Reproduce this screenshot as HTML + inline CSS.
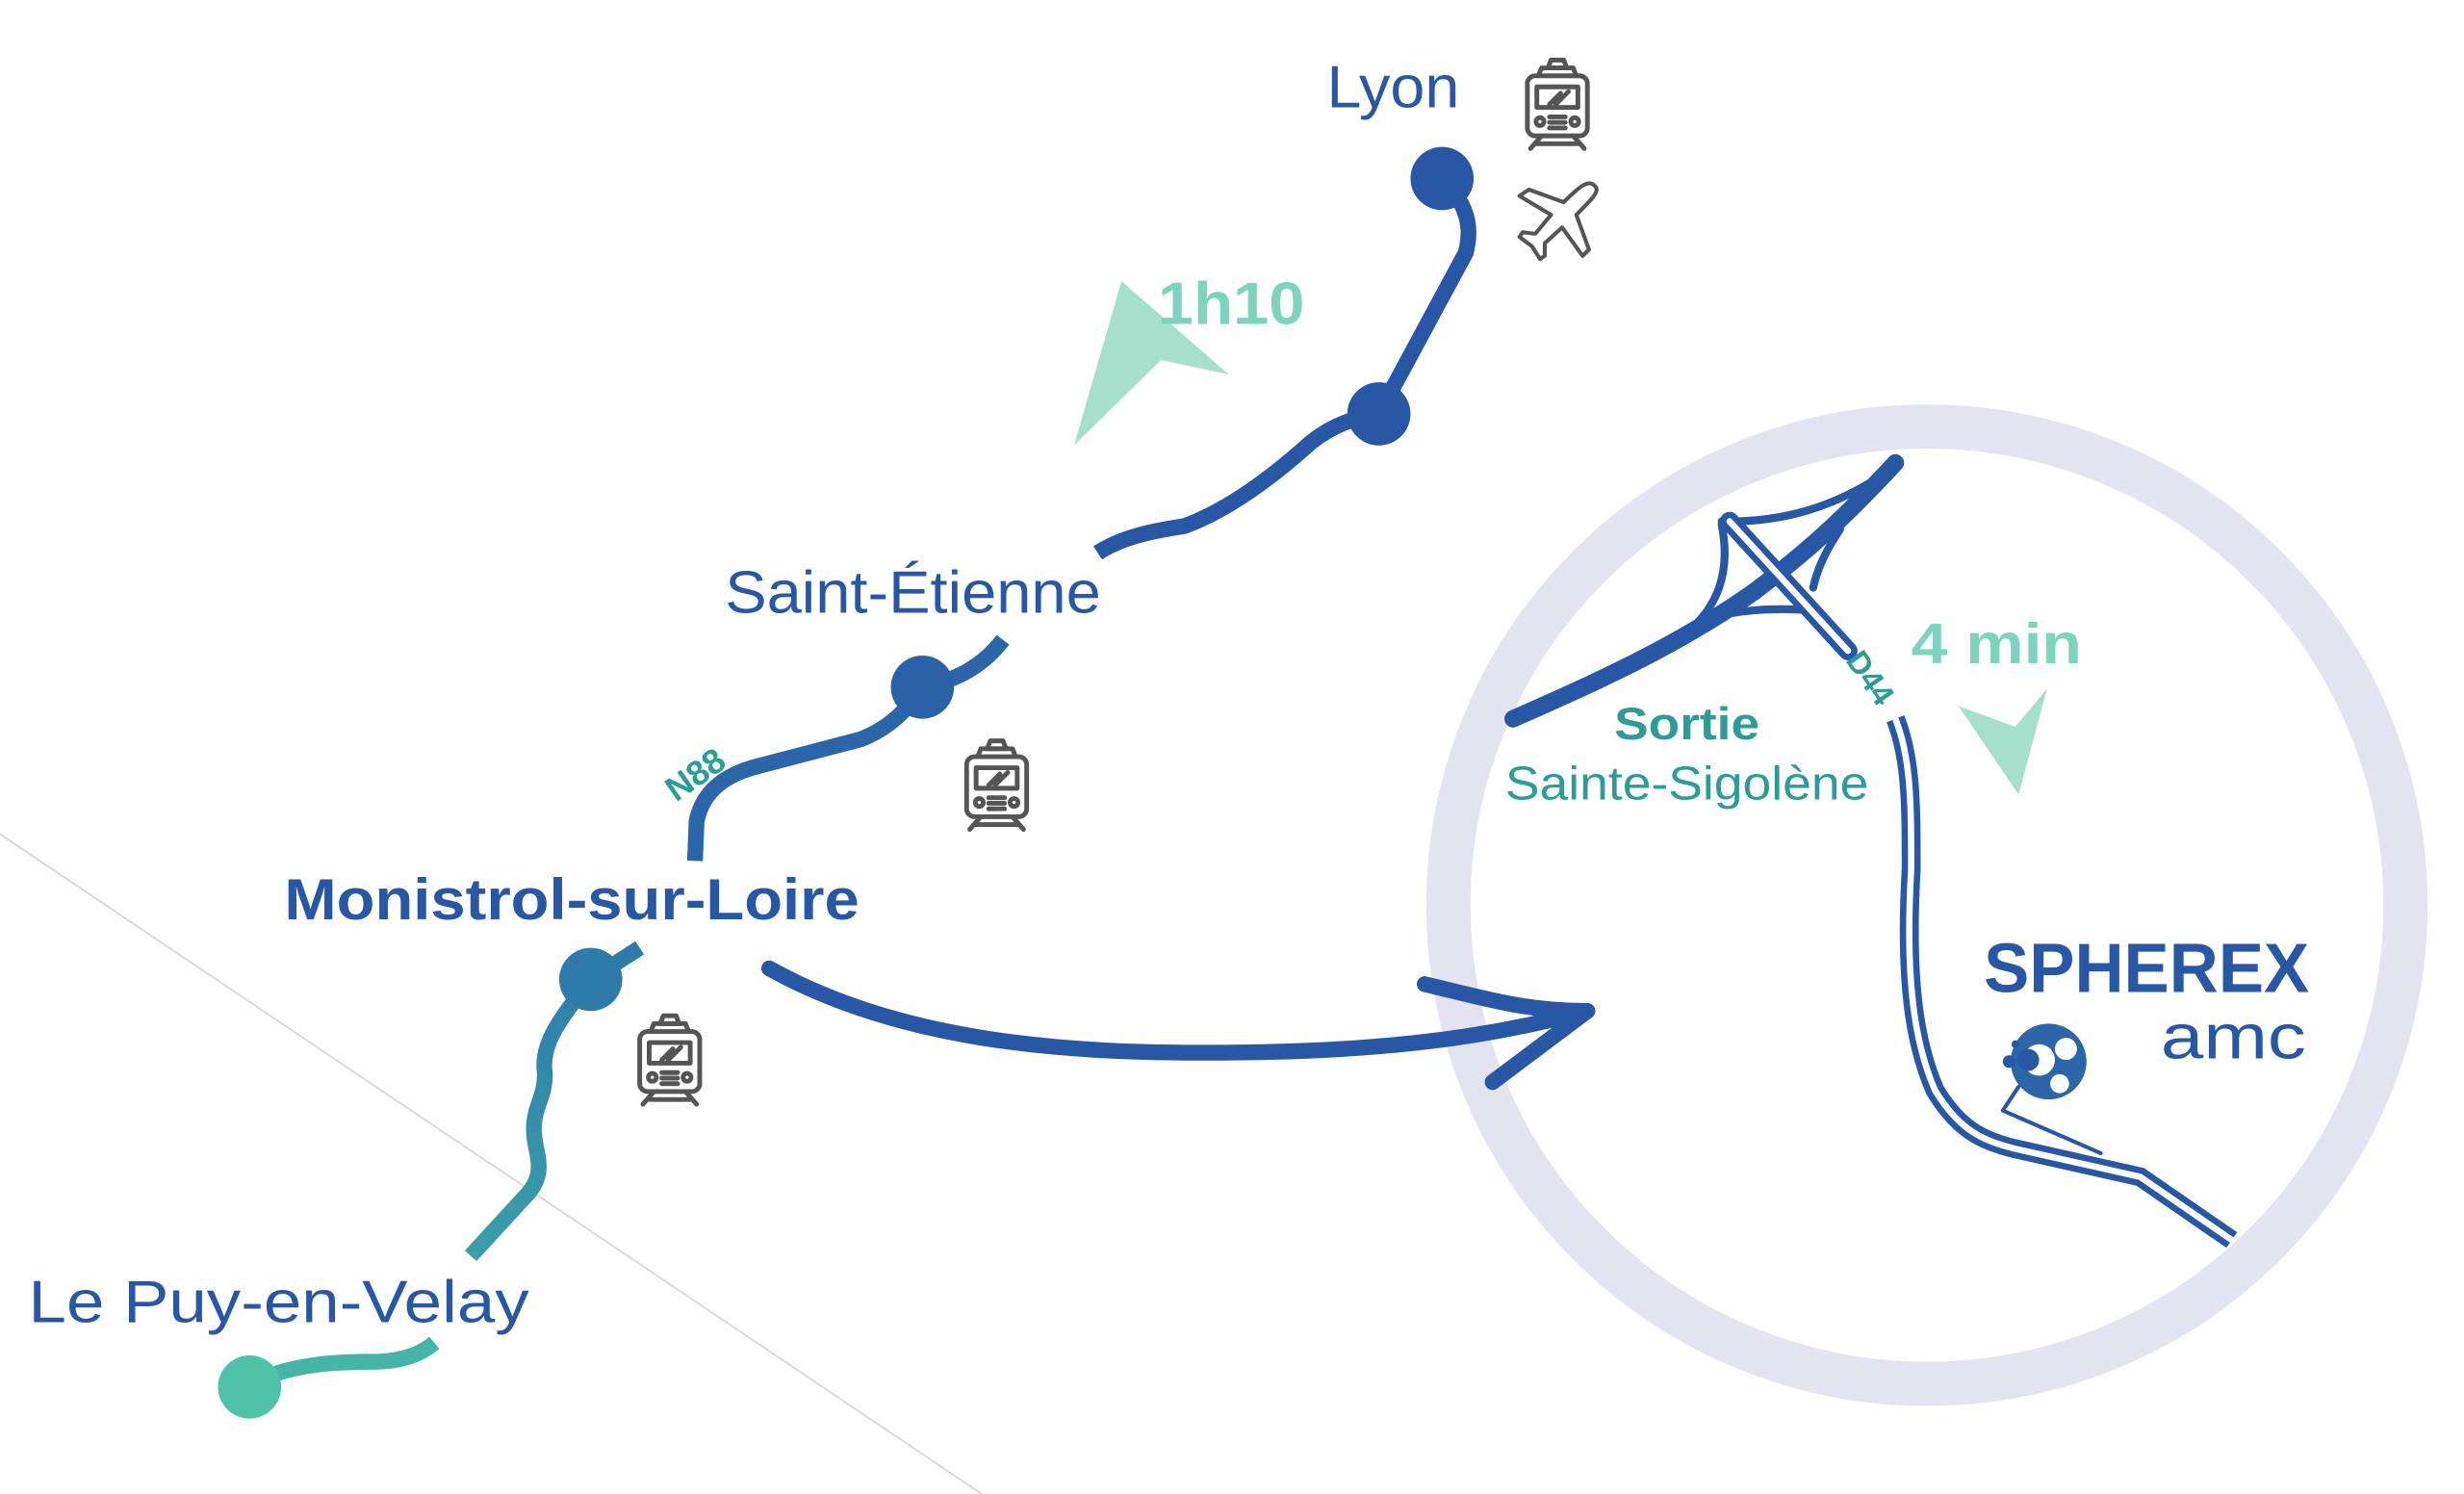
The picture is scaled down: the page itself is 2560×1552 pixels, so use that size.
<!DOCTYPE html>
<html><head><meta charset="utf-8"><style>
html,body{margin:0;padding:0;background:#fff;width:2560px;height:1552px;overflow:hidden}
svg{display:block}
text{font-family:"Liberation Sans",sans-serif}
</style></head><body>
<svg width="2560" height="1552" viewBox="0 0 1560 945.75" preserveAspectRatio="none" xmlns="http://www.w3.org/2000/svg">
<defs>
<linearGradient id="g2" x1="0" y1="1" x2="0" y2="0">
<stop offset="0" stop-color="#3a9fa8"/><stop offset="1" stop-color="#2e7aaa"/>
</linearGradient>
<g id="train" fill="none" stroke="#555" stroke-width="3" stroke-linecap="round" stroke-linejoin="round">
<path d="M16 8 L18 3 H26 L28 8 Z"/><path d="M10 13 L12 8 H32 L34 13"/>
<rect x="3" y="13" width="38" height="38" rx="5"/>
<rect x="9" y="20" width="26" height="13"/>
<path d="M17 31 L24 24 M21 31 L29 23"/>
<circle cx="11" cy="42" r="2.5"/><circle cx="33" cy="42" r="2.5"/>
<path d="M17 39 H27 M17 42.5 H27 M17 46 H27"/>
<path d="M12 51 L5 59 M32 51 L39 59 M9 56 H35"/>
</g>
</defs>
<circle cx="1220" cy="573" r="303" fill="none" stroke="#e4e4f0" stroke-width="28"/>
<line x1="0" y1="528" x2="622" y2="946" stroke="#d8d8e0" stroke-width="1.2"/>
<!-- route -->
<g fill="none" stroke-width="10" stroke-linecap="butt">
<path d="M158 878 C180 862 220 862 240 862 C258 861 268 856 275 850" stroke="#45b5a8"/>
<path d="M298 795 L332 758 C348 742 338 730 338 715 C338 700 345 695 345 680 C342 660 355 645 374 620 L405 600" stroke="url(#g2)"/>
<path d="M440 545 L441 520 C445 500 460 490 480 485 L545 468 C565 460 575 448 584 435 C610 430 625 418 635 405" stroke="#2a66a8"/>
<path d="M695 350 C710 340 730 336 750 333 C780 322 810 298 830 280 C845 268 860 264 873 262 L928 160 C932 145 930 130 913 113" stroke="#2757a5"/>
</g>
<circle cx="158" cy="878" r="20" fill="#4ec3a8"/>
<circle cx="374" cy="620" r="20" fill="#2e7aaa"/>
<circle cx="584" cy="435" r="20" fill="#2a62a8"/>
<circle cx="873" cy="262" r="20" fill="#2757a5"/>
<circle cx="913" cy="113" r="20" fill="#2757a5"/>
<!-- big arrow -->
<g fill="none" stroke="#2757a5" stroke-width="10" stroke-linecap="round" stroke-linejoin="round">
<path d="M487 613 C580 665 700 668 800 666 C900 664 960 652 1005 640"/>
<path d="M902 623 C940 632 965 640 1005 640 L945 685"/>
</g>
<!-- highway -->
<g fill="none" stroke="#2757a5" stroke-linecap="round">
<path d="M958 455 C1010 432 1060 410 1110 375 C1150 345 1175 320 1200 293" stroke-width="11"/>
<path d="M1090 332 C1096 362 1088 385 1065 403" stroke-width="5"/>
<path d="M1090 330 C1130 331 1160 320 1185 305" stroke-width="5"/>
<path d="M1165 335 C1155 350 1150 362 1148 372" stroke-width="5"/>
<path d="M1080 392 C1100 386 1120 385 1142 386" stroke-width="5"/>
<path d="M1095 330 L1170 412" stroke-width="12"/>
<path d="M1095 330 L1170 412" stroke="#fff" stroke-width="4"/>
<path d="M1200 455 C1210 480 1210 510 1210 550 C1206 620 1212 660 1225 690 C1240 715 1255 722 1275 727 L1355 745 L1413 785" stroke-width="12" stroke-linecap="butt"/>
<path d="M1200 455 C1210 480 1210 510 1210 550 C1206 620 1212 660 1225 690 C1240 715 1255 722 1275 727 L1355 745 L1413 785" stroke="#fff" stroke-width="4" stroke-linecap="butt"/>
<path d="M1268 703 L1278 688 M1268 703 L1330 730" stroke-width="2.5"/>
</g>
<!-- green arrows -->
<polygon points="710,178 778,237 735,228 680,282" fill="#a6e0cc"/>
<polygon points="1240,447 1276,460 1296,436 1278,503" fill="#a6e0cc"/>
<!-- icons -->
<use href="#train" x="964" y="35"/>
<use href="#train" x="609" y="466"/>
<use href="#train" x="402" y="640"/>
<path d="M1010 118 C1006 113 1000 118 990 128 L968 120 L962 124 L982 136 L972 148 L964 147 L962 150 L970 156 L975 164 L978 162 L978 154 L989 144 L1002 162 L1006 158 L998 136 C1008 126 1013 121 1010 118 Z" fill="none" stroke="#555" stroke-width="2.5" stroke-linejoin="round"/>
<!-- logo -->
<circle cx="1297" cy="672" r="24" fill="#2a66a8"/>
<circle cx="1291" cy="671" r="10" fill="#fff"/><circle cx="1308" cy="664" r="7" fill="#fff"/><circle cx="1304" cy="686" r="6" fill="#fff"/>
<circle cx="1284" cy="671" r="7" fill="#2757a5"/><circle cx="1272" cy="672" r="4" fill="#2757a5"/><circle cx="1276" cy="661" r="2.5" fill="#2757a5"/>
<!-- texts -->
<g fill="#2757a5">
<text x="840" y="68" font-size="38" textLength="84" lengthAdjust="spacingAndGlyphs">Lyon</text>
<text x="459" y="388" font-size="38" textLength="238" lengthAdjust="spacingAndGlyphs">Saint-Étienne</text>
<text x="180" y="582" font-size="37" font-weight="bold" textLength="364" lengthAdjust="spacingAndGlyphs">Monistrol-sur-Loire</text>
<text x="18" y="837" font-size="38" textLength="317" lengthAdjust="spacingAndGlyphs">Le Puy-en-Velay</text>
<text x="1256" y="628" font-size="44" font-weight="900" textLength="206" lengthAdjust="spacingAndGlyphs">SPHEREX</text>
<text x="1368" y="670" font-size="40" textLength="92" lengthAdjust="spacingAndGlyphs">amc</text>
</g>
<text x="733" y="205" font-size="38" font-weight="bold" fill="#7dd4bc" textLength="93" lengthAdjust="spacingAndGlyphs">1h10</text>
<text x="1210" y="420" font-size="36" font-weight="bold" fill="#7dd4bc" textLength="108" lengthAdjust="spacingAndGlyphs">4 min</text>
<text x="1022" y="468" font-size="29" font-weight="bold" fill="#2a9d96" textLength="92" lengthAdjust="spacingAndGlyphs">Sortie</text>
<text x="953" y="506" font-size="30" fill="#2a9d96" textLength="230" lengthAdjust="spacingAndGlyphs">Sainte-Sigolène</text>
<text transform="translate(428,508) rotate(-35)" font-size="22" font-weight="bold" fill="#2a9d96">N88</text>
<text transform="translate(1168,418) rotate(55)" font-size="20" font-weight="bold" fill="#2a9d96">D44</text>
</svg>
</body></html>
